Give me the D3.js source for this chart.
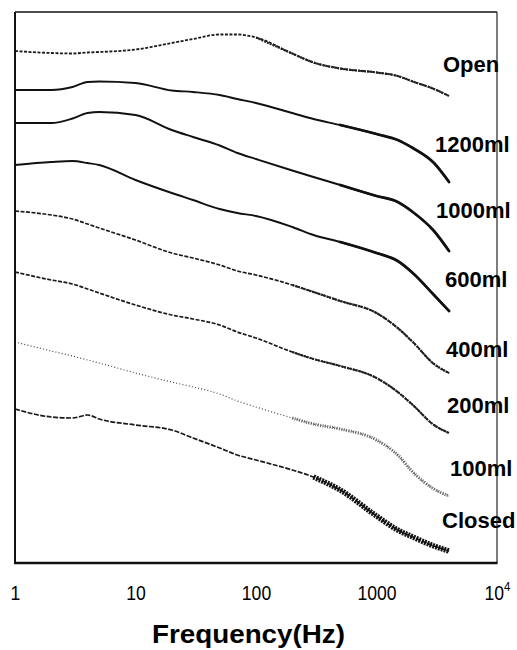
<!DOCTYPE html>
<html>
<head>
<meta charset="utf-8">
<script src="https://cdn.jsdelivr.net/npm/d3@7"></script>
<style>
  html, body { margin: 0; padding: 0; background: #fff; }
  svg { display: block; }
</style>
</head>
<body>
<svg id="chart" width="517" height="650"></svg>
<script>
// ---------------- data ----------------
const freqs = [1, 2, 3, 4, 5, 10, 20, 30, 50, 70, 100, 200, 300, 500, 1000, 1500, 2000, 3000, 4000];
const seriesNames = ["Open", "1200ml", "1000ml", "600ml", "400ml", "200ml", "100ml", "Closed"];
const openVals    = [102.4, 102, 101.9, 102.1, 102.2, 102.7, 104, 104.8, 105.7, 105.7, 105.1, 101.9, 100.1, 98.9, 98.1, 97.4, 96.3, 94.8, 93.4];
const ml1200Vals  = [94.6, 94.6, 95.2, 96.2, 96.3, 96, 94.5, 94.2, 93.6, 92.8, 92, 90, 88.8, 87.6, 85.8, 84.6, 83, 80, 76.2];
const ml1000Vals  = [88, 88, 88.9, 90, 90.2, 89.6, 86.6, 85.2, 83.5, 82, 80.8, 78.5, 77.2, 75.6, 73.4, 72.2, 70.2, 66.4, 62.4];
const ml600Vals   = [79.6, 80.2, 80.4, 80, 79.6, 76.6, 74, 72.6, 70.8, 70, 69.4, 67.2, 65.6, 64.2, 62, 60.4, 58, 53.6, 50.4];
const ml400Vals   = [70.4, 69.6, 68.8, 67.8, 67, 64.6, 62, 61, 59.6, 58.4, 57.6, 55.6, 54.2, 52.4, 50, 47, 44.2, 39.8, 38];
const ml200Vals   = [58.2, 56.6, 55.8, 54.8, 54, 51.6, 49.6, 48.8, 47.6, 46.2, 45, 42.2, 40.8, 39.4, 37, 34.2, 31.6, 27.6, 26];
const ml100Vals   = [44.2, 42.4, 41.4, 40.6, 40, 38, 36.2, 35.2, 33.8, 32.4, 31.2, 29, 27.8, 26.8, 24.6, 21.6, 18.2, 14.8, 13.4];
const closedVals  = [30.8, 29.2, 29, 29.6, 28.8, 27.6, 26.6, 25, 23, 21.6, 20.6, 18.6, 17.2, 14.6, 9.4, 6.6, 5.2, 3.4, 2.4];
const tickValues  = [1, 10, 100, 1000, 10000];
const tickLabels  = ["1", "10", "100", "1000", "10^4"];
const xTitle = "Frequency(Hz)";

// ---------------- layout ----------------
const svg = d3.select("#chart");
const L = 15, R = 497, T = 12, B = 563;
const x = d3.scaleLog().domain([1, 10000]).range([L, R]);
const y = d3.scaleLinear().domain([0, 110]).range([B, B - 110 * 5]);

const allVals = [openVals, ml1200Vals, ml1000Vals, ml600Vals, ml400Vals, ml200Vals, ml100Vals, closedVals];

// styles per series
const styles = [
  { base: { w: 1.8, dash: "3,1.5", c: "#1a1a1a" }, hi: { from: 100, w: 2.2, dash: "2,1", c: "#222" } },
  { base: { w: 1.9, dash: null, c: "#111" }, hi: { from: 500, w: 2.8, dash: null, c: "#111" } },
  { base: { w: 1.9, dash: null, c: "#111" }, hi: { from: 500, w: 2.8, dash: null, c: "#111" } },
  { base: { w: 1.9, dash: null, c: "#111" }, hi: { from: 500, w: 2.8, dash: null, c: "#111" } },
  { base: { w: 1.7, dash: "4,1.5", c: "#1a1a1a" }, hi: { from: 200, w: 2.2, dash: "2,1", c: "#222" } },
  { base: { w: 1.7, dash: "4,1.5", c: "#1a1a1a" }, hi: { from: 200, w: 2.2, dash: "2,1", c: "#222" } },
  { base: { w: 1.2, dash: "1,2.2", c: "#444" }, hi: { from: 200, w: 3.2, dash: "1,1.4", c: "#666" } },
  { base: { w: 1.7, dash: "5,1.5", c: "#1a1a1a" }, hi: { from: 300, w: 5.5, dash: "2,1", c: "#111" } }
];

// label placement (start x in px, baseline in data units)
const labelLayout = [
  { x: 443, v: 98.2 }, { x: 435, v: 82.2 }, { x: 436, v: 69 }, { x: 445, v: 55.2 },
  { x: 446, v: 41.2 }, { x: 447, v: 30 }, { x: 450, v: 17.4 }, { x: 442, v: 7 }
];

const line = d3.line()
  .x(d => x(d.f))
  .y(d => y(d.v))
  .curve(d3.curveMonotoneX);

const gLines = svg.append("g");
allVals.forEach((vals, i) => {
  const pts = freqs.map((f, k) => ({ f, v: vals[k] }));
  const st = styles[i];
  const p = gLines.append("path")
    .attr("d", line(pts))
    .attr("fill", "none")
    .attr("stroke", st.base.c)
    .attr("stroke-width", st.base.w)
    .attr("stroke-linejoin", "round");
  if (st.base.dash) p.attr("stroke-dasharray", st.base.dash);
  const hiPts = pts.filter(d => d.f >= st.hi.from);
  const h = gLines.append("path")
    .attr("d", line(hiPts))
    .attr("fill", "none")
    .attr("stroke", st.hi.c)
    .attr("stroke-width", st.hi.w)
    .attr("stroke-linecap", "round");
  if (st.hi.dash) h.attr("stroke-dasharray", st.hi.dash).attr("stroke-linecap", "butt");
});

// series labels
svg.append("g").selectAll("text")
  .data(seriesNames)
  .join("text")
  .attr("x", (d, i) => labelLayout[i].x)
  .attr("y", (d, i) => y(labelLayout[i].v))
  .attr("font-family", "'Liberation Sans', Arial, sans-serif")
  .attr("font-weight", "bold")
  .attr("font-size", 22)
  .attr("fill", "#000")
  .text(d => d);

// frame
svg.append("line").attr("x1", L).attr("x2", R).attr("y1", T).attr("y2", T).attr("stroke", "#111").attr("stroke-width", 1.6);
svg.append("line").attr("x1", R).attr("x2", R).attr("y1", T).attr("y2", B).attr("stroke", "#111").attr("stroke-width", 1.1);
svg.append("line").attr("x1", L).attr("x2", L).attr("y1", T).attr("y2", B).attr("stroke", "#111").attr("stroke-width", 2);
svg.append("line").attr("x1", L - 1).attr("x2", R + 0.5).attr("y1", B).attr("y2", B).attr("stroke", "#111").attr("stroke-width", 2.4);

// x axis labels
const axis = d3.axisBottom(x).tickValues(tickValues).tickSize(0).tickFormat(() => "");
const gAxis = svg.append("g").attr("transform", `translate(0,${B})`).call(axis);
gAxis.select(".domain").remove();
gAxis.selectAll(".tick text").remove();
gAxis.selectAll(".tick").each(function(d, i) {
  const t = d3.select(this).append("text")
    .attr("y", 37)
    .attr("text-anchor", "middle")
    .attr("fill", "#000")
    .attr("font-family", "'Liberation Sans', Arial, sans-serif")
    .attr("font-size", 20)
    .attr("transform", "scale(0.88,1)");
  const lab = tickLabels[i];
  if (lab.includes("^")) {
    const [b, e] = lab.split("^");
    t.append("tspan").text(b);
    t.append("tspan").attr("dy", -9).attr("font-size", 13).text(e);
  } else {
    t.text(lab);
  }
});

// x title
svg.append("text")
  .attr("x", 248.5)
  .attr("y", 643)
  .attr("text-anchor", "middle")
  .attr("font-family", "'Liberation Sans', Arial, sans-serif")
  .attr("font-weight", "bold")
  .attr("font-size", 25)
  .attr("textLength", 193)
  .attr("lengthAdjust", "spacingAndGlyphs")
  .attr("fill", "#000")
  .text(xTitle);
</script>
</body>
</html>
